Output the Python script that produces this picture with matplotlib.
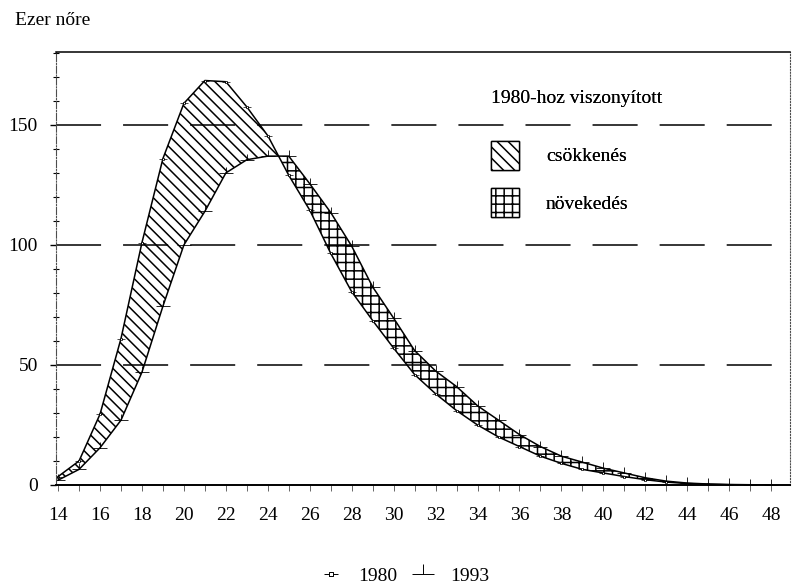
import matplotlib
matplotlib.use('Agg')
import matplotlib.pyplot as plt
from matplotlib.path import Path
from matplotlib.patches import Patch
from matplotlib.lines import Line2D
from matplotlib.ticker import MultipleLocator
import numpy as np

# ---------------------------------------------------------------- adatok
AGES = list(range(14, 49))

# 1000 nőre jutó élveszületés, korév szerint
RATE_1980 = [3.5, 10.0, 29.5, 61.0, 101.0, 136.0, 159.0, 168.5, 168.0, 157.5,
             145.5, 129.0, 114.5, 96.5, 80.5, 68.5, 57.0, 46.0, 38.0, 31.0,
             25.0, 20.0, 16.0, 12.0, 9.0, 6.5, 5.0, 3.5, 2.2, 1.2,
             0.6, 0.3, 0.1, 0.05, 0.0]
RATE_1993 = [2.0, 6.5, 15.5, 27.0, 47.0, 74.5, 100.0, 114.0, 130.0, 135.5,
             137.0, 137.0, 125.5, 113.5, 99.5, 82.5, 69.5, 56.0, 47.5, 41.0,
             33.0, 27.0, 21.0, 16.0, 12.0, 9.5, 7.0, 5.0, 3.0, 1.6,
             0.8, 0.4, 0.2, 0.1, 0.05]

X_TICKS = list(range(14, 49, 2))
Y_TICKS = [0, 50, 100, 150]

# ---------------------------------------------------------------- stílus
plt.rcParams['font.family'] = ['Liberation Serif', 'DejaVu Serif']
plt.rcParams['hatch.linewidth'] = 1.1
FS = 14

MK_1993 = Path([(-1, 0), (1, 0), (0, 0), (0, 0.9)],
               [Path.MOVETO, Path.LINETO, Path.MOVETO, Path.LINETO])
MK_1980 = Path([(-1, 0), (-0.3, 0),
                (-0.3, -0.3), (0.3, -0.3), (0.3, 0.3), (-0.3, 0.3), (-0.3, -0.3),
                (0.3, 0), (1, 0)],
               [Path.MOVETO, Path.LINETO,
                Path.MOVETO, Path.LINETO, Path.LINETO, Path.LINETO, Path.LINETO,
                Path.MOVETO, Path.LINETO])

x = np.array(AGES, dtype=float)
y80 = np.array(RATE_1980)
y93 = np.array(RATE_1993)

fig = plt.figure(figsize=(7.94, 5.87), dpi=100)
ax = fig.add_axes([0.0705, 0.1738, 0.9245, 0.7377])

# kitöltések
ax.fill_between(x, y80, y93, where=y80 >= y93, interpolate=True,
                facecolor='none', edgecolor='black', hatch='\\\\\\', linewidth=0)
ax.fill_between(x, y80, y93, where=y93 >= y80, interpolate=True,
                facecolor='none', edgecolor='black', hatch='++', linewidth=0)

ax.plot(x, y80, color='black', lw=1.1, marker=MK_1980, ms=6, mew=0.5,
        mfc='white')
ax.plot(x, y93, color='black', lw=1.1, marker=MK_1993, ms=10, mew=0.6)

# szaggatott rácsvonalak
for v in Y_TICKS[1:]:
    ax.axhline(v, color='black', lw=1.1, dashes=(29.5, 14.4),
               dash_capstyle='butt', zorder=0.5)

ax.set_xlim(13.9, 48.9)
ax.set_ylim(0, 180.4)
ax.xaxis.set_major_locator(MultipleLocator(2))
ax.xaxis.set_minor_locator(MultipleLocator(1))
ax.set_xticks(X_TICKS)
ax.set_yticks(Y_TICKS)
ax.yaxis.set_minor_locator(MultipleLocator(10))

ax.tick_params(axis='x', which='both', direction='out', length=4, width=0.7,
               color='0.4', pad=12, labelsize=FS)
ax.tick_params(axis='y', which='major', direction='out', length=4, width=1.0,
               pad=9, labelsize=FS)
ax.tick_params(axis='y', which='minor', direction='inout', length=5, width=0.8)

ax.spines['top'].set_linewidth(1.1)
ax.spines['bottom'].set_linewidth(1.4)
ax.spines['left'].set_linestyle('-.')
ax.spines['left'].set_linewidth(0.8)
ax.spines['left'].set_color('0.3')
ax.spines['right'].set_linestyle(':')
ax.spines['right'].set_linewidth(0.8)
ax.spines['right'].set_color('0.3')

fig.text(0.019, 0.965, "Ezer nőre", fontsize=FS, va='center', ha='left')

# jelmagyarázat – kitöltések
h_fill = [Patch(facecolor='white', edgecolor='black', hatch='\\\\\\', lw=1.0),
          Patch(facecolor='white', edgecolor='black', hatch='++', lw=1.0)]
leg = ax.legend(h_fill, ['csökkenés', 'növekedés'], title='1980-hoz viszonyított',
                loc='upper left', bbox_to_anchor=(0.619, 0.846),
                bbox_transform=fig.transFigure, frameon=False, fontsize=FS,
                title_fontsize=FS, handlelength=1.4, handleheight=1.9,
                handletextpad=1.4, labelspacing=0.95, alignment='left',
                borderaxespad=0, borderpad=0)
leg._legend_box.sep = 24
ax.add_artist(leg)

# jelmagyarázat – évek
h_year = [Line2D([], [], color='black', lw=0, marker=MK_1980, ms=10, mew=0.7,
                 mfc='white'),
          Line2D([], [], color='black', lw=0, marker=MK_1993, ms=16, mew=0.7)]
fig.legend(h_year, ['1980', '1993'], loc='center', bbox_to_anchor=(0.509, 0.018),
           ncol=2, frameon=False, fontsize=FS, handlelength=1.2,
           handletextpad=0.8, columnspacing=0.7)

fig.savefig('out.png', dpi=100)
